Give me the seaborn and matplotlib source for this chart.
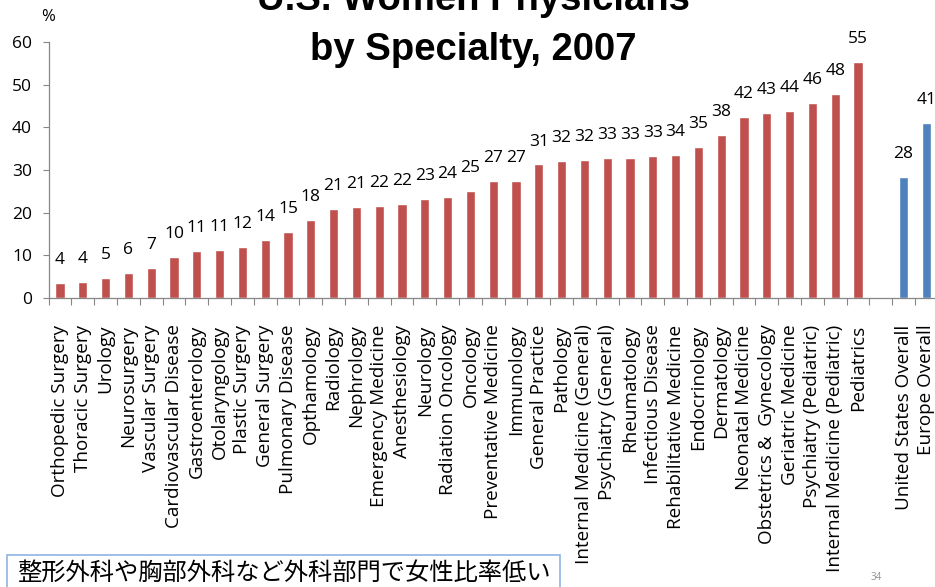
import matplotlib
matplotlib.use("Agg")
import matplotlib.pyplot as plt
import matplotlib.patches as mpatches
import seaborn as sns
import pandas as pd

# --- data ---
specialties = [
    "Orthopedic Surgery", "Thoracic Surgery", "Urology", "Neurosurgery",
    "Vascular Surgery", "Cardiovascular Disease", "Gastroenterology",
    "Otolaryngology", "Plastic Surgery", "General Surgery", "Pulmonary Disease",
    "Opthamology", "Radiology", "Nephrology", "Emergency Medicine",
    "Anesthesiology", "Neurology", "Radiation Oncology", "Oncology",
    "Preventative Medicine", "Immunology", "General Practice", "Pathology",
    "Internal Medicine (General)", "Psychiatry (General)", "Rheumatology",
    "Infectious Disease", "Rehabilitative Medicine", "Endocrinology",
    "Dermatology", "Neonatal Medicine", "Obstetrics &  Gynecology",
    "Geriatric Medicine", "Psychiatry (Pediatric)", "Internal Medicine (Pediatric)",
    "Pediatrics",
]
specialty_values = [3.6, 3.8, 4.8, 5.8, 7.1, 9.7, 11.1, 11.3, 11.9, 13.7, 15.4,
                    18.3, 20.8, 21.4, 21.6, 22.0, 23.2, 23.7, 25.1, 27.4, 27.4,
                    31.3, 32.1, 32.3, 32.9, 32.9, 33.3, 33.6, 35.3, 38.3, 42.5,
                    43.3, 43.8, 45.8, 47.9, 55.3]
specialty_labels = [4, 4, 5, 6, 7, 10, 11, 11, 12, 14, 15, 18, 21, 21, 22, 22,
                    23, 24, 25, 27, 27, 31, 32, 32, 33, 33, 33, 34, 35, 38, 42,
                    43, 44, 46, 48, 55]

overall = ["United States Overall", "Europe Overall"]
overall_values = [28.3, 41.0]
overall_labels = [28, 41]

title_line1 = "U.S. Women Physicians"
title_line2 = "by Specialty, 2007"
note = "整形外科や胸部外科など外科部門で女性比率低い"

# --- table for seaborn ---
df = pd.DataFrame({
    "name": specialties + overall,
    "pct": specialty_values + overall_values,
    "group": ["specialty"] * len(specialties) + ["overall"] * len(overall),
})
order = specialties + [""] + overall
labels = dict(zip(specialties + overall, specialty_labels + overall_labels))

sns.set_style("white")
plt.rcParams["font.family"] = ["Open Sans", "DejaVu Sans"]
plt.rcParams["text.color"] = "black"
plt.rcParams["xtick.color"] = "black"
plt.rcParams["ytick.color"] = "black"

fig = plt.figure(figsize=(9.35, 5.87), dpi=100)
ax = fig.add_axes([0.052, 0.4923, 0.951, 0.4361])

sns.barplot(data=df, x="name", y="pct", hue="group", order=order,
            palette={"specialty": "#C0504D", "overall": "#4F81BD"},
            width=0.41, legend=False, ax=ax, saturation=1)

# value labels above bars
for name, val in zip(df["name"], df["pct"]):
    i = order.index(name)
    ax.annotate(str(labels[name]), (i, val), xytext=(0, 16.5),
                textcoords="offset points", ha="center", va="center",
                fontsize=12.5, color="black")

ax.set_xlim(-0.5, len(order) - 0.5)
ax.set_ylim(0, 60)
ax.set_yticks(range(0, 61, 10))
ax.tick_params(axis="y", labelsize=12.5, length=4, width=0.8,
               color="#868686", pad=8, left=True, labelcolor="black")

ax.set_xticks(range(len(order)))
ax.set_xticklabels(order, rotation=90, fontsize=13.6)
ax.set_xticks([k - 0.5 for k in range(len(order) + 1)], minor=True)
ax.tick_params(axis="x", which="major", length=0, pad=19, labelcolor="black")
ax.tick_params(axis="x", which="minor", length=5, width=0.8,
               color="#868686", bottom=True)
ax.set_xlabel("")
ax.set_ylabel("")

for s in ["top", "right"]:
    ax.spines[s].set_visible(False)
for s in ["left", "bottom"]:
    ax.spines[s].set_color("#868686")
    ax.spines[s].set_linewidth(0.9)

# "%" unit label
fig.text(48 / 935, 1 - 17 / 587, "%", ha="center", va="center",
         fontsize=12, color="black")

# title (top line partly cut off, as in the original slide)
fig.text(0.506, 1 - 10 / 587, title_line1, ha="center", va="baseline",
         fontsize=27.5, fontweight="bold", family="Liberation Sans", color="black")
fig.text(0.506, 1 - 60 / 587, title_line2, ha="center", va="baseline",
         fontsize=27.5, fontweight="bold", family="Liberation Sans", color="black")

# note box
box = mpatches.Rectangle((7 / 935, -0.01), 553 / 935, (587 - 555) / 587 + 0.01,
                         transform=fig.transFigure, facecolor="white",
                         edgecolor="#8EB4E3", linewidth=1.2)
fig.patches.append(box)
fig.text(17 / 935, 1 - 573 / 587, note, ha="left", va="center", fontsize=17.5,
         family=["Noto Sans CJK JP", "DejaVu Sans"])

fig.text(876 / 935, 1 - 578 / 587, "34", ha="center", va="center",
         fontsize=7, color="#909090")

fig.savefig("out.png", dpi=100)
